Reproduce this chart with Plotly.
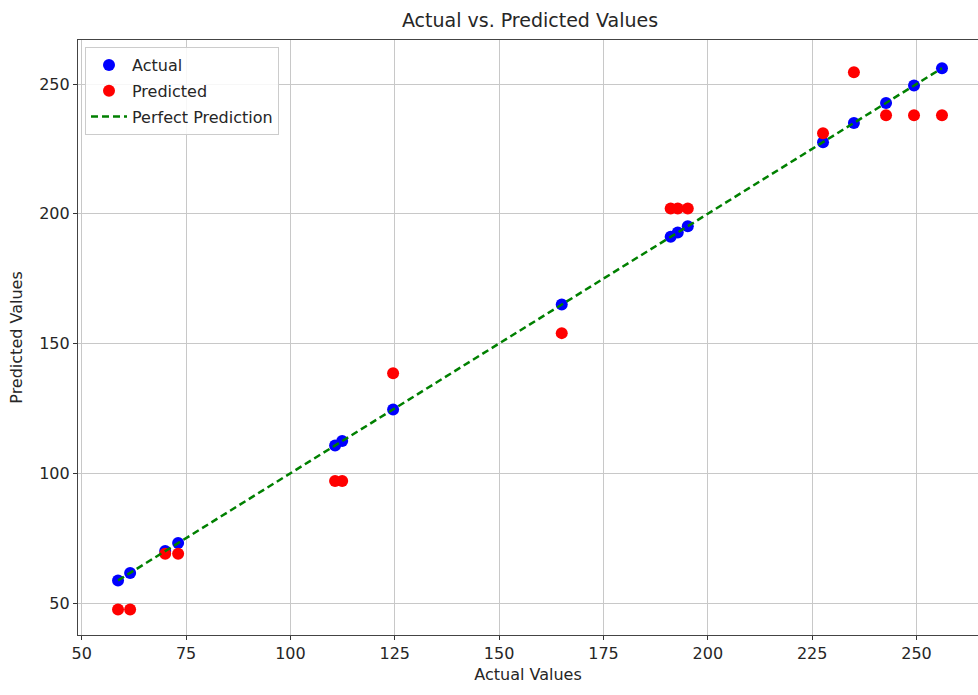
import plotly.graph_objects as go

# Data
actual = [58.7, 61.6, 70.0, 73.1, 110.7, 112.4, 124.6, 165.0, 191.1, 192.8, 195.2,
          227.6, 235.0, 242.7, 249.4, 256.1]
predicted = [47.5, 47.5, 69.0, 69.0, 97.0, 97.0, 138.5, 154.0, 202.0, 202.0, 202.0,
             231.0, 254.5, 238.0, 238.0, 238.0]
x_ticks = [50, 75, 100, 125, 150, 175, 200, 225, 250]
y_ticks = [50, 100, 150, 200, 250]

FONT = "DejaVu Sans"
TXT = "#262626"

fig = go.Figure()
fig.add_trace(go.Scatter(
    x=actual, y=actual, mode="markers", name="Actual", legendgroup="a",
    marker=dict(color="#0000ff", size=12, line=dict(width=0)),
))
fig.add_trace(go.Scatter(
    x=actual, y=predicted, mode="markers", name="Predicted", legendgroup="b",
    marker=dict(color="#ff0000", size=12, line=dict(width=0)),
))
fig.add_trace(go.Scatter(
    x=[min(actual), max(actual)], y=[min(actual), max(actual)], mode="lines",
    name="Perfect Prediction", legendgroup="c",
    line=dict(color="#008000", width=2.5, dash="7px,4px"),
))

fig.update_layout(
    width=978, height=695,
    margin=dict(l=78, r=0, t=40, b=60),
    plot_bgcolor="white", paper_bgcolor="white",
    font=dict(family=FONT, size=16, color=TXT),
    title=dict(text="Actual vs. Predicted Values", x=530 / 978, xref="container",
               xanchor="center", y=1 - 20 / 695, yanchor="middle",
               font=dict(family=FONT, size=19, color=TXT)),
    showlegend=True,
    legend=dict(x=(85 - 78) / 900, y=1 - 7 / 595, xanchor="left", yanchor="top",
                bgcolor="rgba(255,255,255,0.85)", bordercolor="#cccccc", borderwidth=1,
                font=dict(family=FONT, size=16, color=TXT),
                itemwidth=36, traceorder="grouped", tracegroupgap=2),
    xaxis=dict(range=[49.11, 264.73], tickvals=x_ticks, ticks="outside", ticklen=4,
               tickcolor="#333", showline=True, mirror=True, linecolor="#444", linewidth=1.2,
               showgrid=True, gridcolor="#c8c8c8", gridwidth=1.3, zeroline=False,
               title=dict(text="Actual Values", standoff=6, font=dict(size=16))),
    yaxis=dict(range=[37.67, 266.96], tickvals=y_ticks, ticks="outside", ticklen=4,
               tickcolor="#333", showline=True, mirror=False, linecolor="#444", linewidth=1.2,
               showgrid=True, gridcolor="#c8c8c8", gridwidth=1.3, zeroline=False,
               title=dict(text="Predicted Values", standoff=12, font=dict(size=16))),
)

fig.write_html("out.html")
